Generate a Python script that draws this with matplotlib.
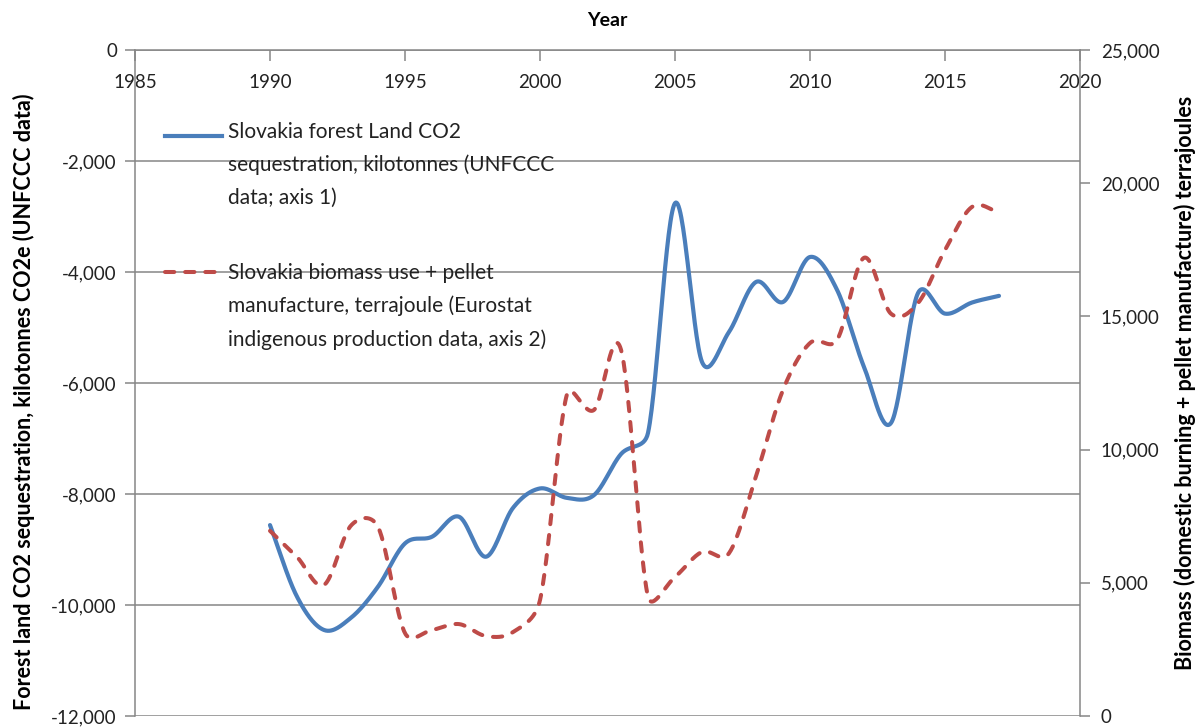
import numpy as np
import matplotlib
matplotlib.use("Agg")
import matplotlib.pyplot as plt
from matplotlib.lines import Line2D
from matplotlib.ticker import FuncFormatter, MultipleLocator

plt.rcParams['font.family'] = ['Lato', 'DejaVu Sans']

years = list(range(1990, 2018))
forest_co2 = [-8560, -9850, -10450, -10230, -9670, -8890, -8770, -8410, -9130, -8250,
              -7900, -8070, -8020, -7280, -6900, -2760, -5620, -5080, -4180, -4540,
              -3730, -4320, -5710, -6720, -4380, -4750, -4550, -4430]
biomass_tj = [6950, 5970, 4920, 7150, 7100, 3110, 3230, 3450, 3000, 3150,
              4350, 12080, 11490, 13750, 4480, 5220, 6160, 6110, 9000, 12240,
              14000, 14110, 17200, 15100, 15500, 17490, 19110, 18910]

label_forest = "Slovakia forest Land CO2\nsequestration, kilotonnes (UNFCCC\ndata; axis 1)"
label_biomass = "Slovakia biomass use + pellet\nmanufacture, terrajoule (Eurostat\nindigenous production data, axis 2)"
xlabel = "Year"
ylabel_left = "Forest land CO2 sequestration, kilotonnes CO2e (UNFCCC data)"
ylabel_right = "Biomass (domestic burning + pellet manufacture) terrajoules"

BLUE = "#4A7EBB"
RED = "#BE4B48"
GREY = "#868686"
W, H = 1203, 728


def smooth(x, y, sx, sy, n=30, k=0.5):
    # Catmull-Rom style Bezier smoothing in screen space, with control arms
    # limited to a fraction of the adjacent segment length (less overshoot)
    P = np.column_stack([np.asarray(x, float) * sx, np.asarray(y, float) * sy])
    m = len(P)
    T = np.zeros_like(P)
    for i in range(m):
        a = P[max(i - 1, 0)]
        b = P[min(i + 1, m - 1)]
        T[i] = (b - a) / (6.0 if 0 < i < m - 1 else 3.0)
    t = np.linspace(0, 1, n, endpoint=False)[:, None]
    pts = []
    for i in range(m - 1):
        p0, p3 = P[i], P[i + 1]
        L = np.linalg.norm(p3 - p0)
        a1, a2 = T[i].copy(), T[i + 1].copy()
        for arm in (a1, a2):
            nrm = np.linalg.norm(arm)
            if nrm > k * L:
                arm *= k * L / nrm
        p1 = p0 + a1
        p2 = p3 - a2
        pts.append((1 - t) ** 3 * p0 + 3 * (1 - t) ** 2 * t * p1 + 3 * (1 - t) * t ** 2 * p2 + t ** 3 * p3)
    pts.append(P[-1][None, :])
    pts = np.vstack(pts)
    return pts[:, 0] / sx, pts[:, 1] / sy


fig = plt.figure(figsize=(W / 100, H / 100), dpi=100)
ax = fig.add_axes([135 / W, 1 - 716 / H, (1080 - 135) / W, (716 - 50) / H])
ax2 = ax.twinx()

ax.set_xlim(1985, 2020)
ax.set_ylim(-12000, 0)
ax2.set_ylim(0, 25000)

fmt = FuncFormatter(lambda v, p: f"{int(round(v)):,}")
ax.yaxis.set_major_locator(MultipleLocator(2000))
ax.yaxis.set_major_formatter(fmt)
ax2.yaxis.set_major_locator(MultipleLocator(5000))
ax2.yaxis.set_major_formatter(fmt)
ax.xaxis.set_major_locator(MultipleLocator(5))

ax.grid(axis='y', color=GREY, linewidth=1.1)
ax.set_axisbelow(True)

for a in (ax, ax2):
    for s in a.spines.values():
        s.set_color(GREY)
        s.set_linewidth(1.1)
    a.spines['top'].set_visible(False)
ax.spines['right'].set_visible(False)
ax2.spines['left'].set_visible(False)
ax2.spines['bottom'].set_visible(False)
ax.spines['bottom'].set_position(('data', 0))

ax.tick_params(axis='x', direction='out', length=8, width=1.1, color=GREY,
               labelsize=13.5, pad=9, labelcolor='#222222')
ax.tick_params(axis='y', direction='out', length=7, width=1.1, color=GREY,
               labelsize=13.5, pad=6, labelcolor='#222222')
ax2.tick_params(axis='y', direction='out', length=7, width=1.1, color=GREY,
                labelsize=13.5, pad=8, labelcolor='#222222')

px_year = 27.0
bx, by = smooth(years, forest_co2, px_year, 666.0 / 12000)
ax.plot(bx, by, color=BLUE, linewidth=3.0, solid_capstyle='round', zorder=3)
rx, ry = smooth(years, biomass_tj, px_year, 666.0 / 25000)
ax2.plot(rx, ry, color=RED, linewidth=2.9, dashes=(2.3, 2.7), dash_capstyle='round', zorder=3)

ax.xaxis.set_label_position('top')
ax.set_xlabel(xlabel, fontsize=14, fontweight='bold', labelpad=17)
ax.set_ylabel(ylabel_left, fontsize=15.5, fontweight='bold', labelpad=12)
ax.yaxis.label.set_y((716 - 402) / 666)
ax2.set_ylabel(ylabel_right, fontsize=15.5, fontweight='bold', labelpad=10, rotation=90)

# legend (handles aligned with the first line of each entry)
entries = [
    (Line2D([165 / W, 222 / W], [1 - 136 / H, 1 - 136 / H], color=BLUE, linewidth=3.0,
            transform=fig.transFigure), label_forest, 133),
    (Line2D([165 / W, 222 / W], [1 - 272 / H, 1 - 272 / H], color=RED, linewidth=2.9,
            dashes=(2.3, 2.7), dash_capstyle='round', transform=fig.transFigure), label_biomass, 274),
]
for line, lab, yc in entries:
    fig.add_artist(line)
    fig.text(228 / W, 1 - (yc - 11) / H, lab, fontsize=15, color='#222222',
             va='top', ha='left', linespacing=1.77)

fig.savefig("out.png", dpi=100)
